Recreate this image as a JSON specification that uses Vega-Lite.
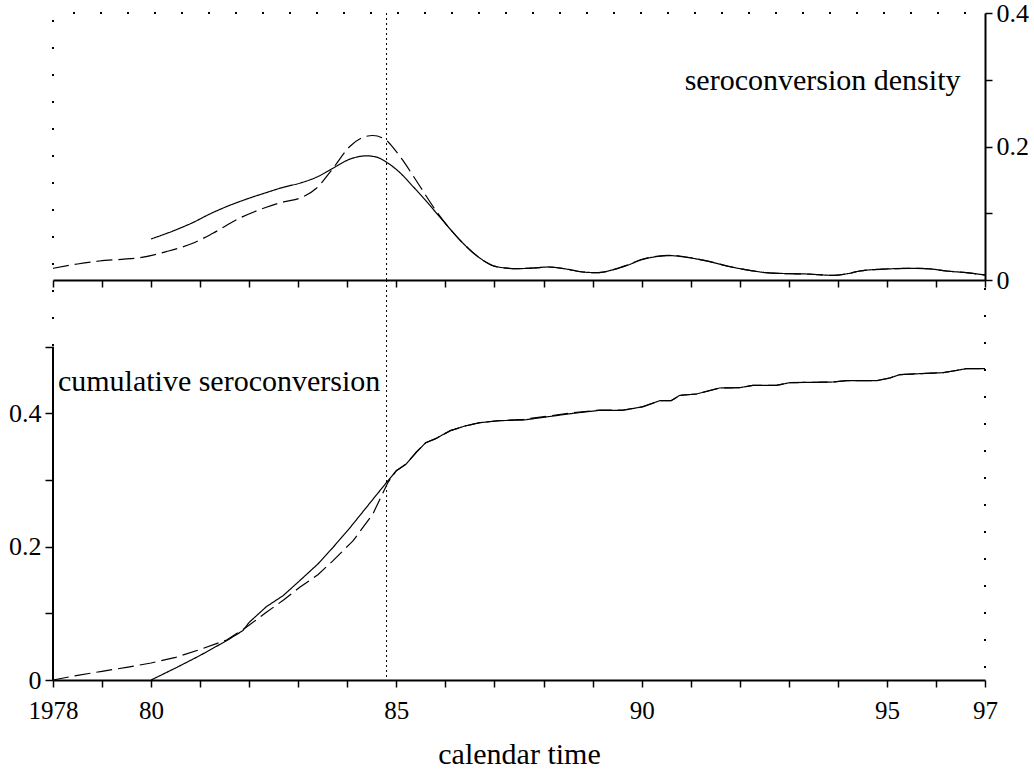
{
  "$schema": "https://vega.github.io/schema/vega-lite/v6.json",
  "padding": {"left": 8, "top": 0, "right": 0, "bottom": 0},
  "background": "white",
  "config": {
    "view": {"stroke": null},
    "font": "Liberation Serif",
    "axis": {
      "domainColor": "black", "domainWidth": 2, "tickColor": "black", "tickWidth": 1.5,
      "labelColor": "black", "labelFont": "Liberation Serif", "labelFontSize": 26,
      "titleFont": "Liberation Serif", "titleFontSize": 30, "titleFontWeight": "normal", "titleColor": "black",
      "grid": false, "labelOverlap": false, "labelFlush": false
    }
  },
  "datasets": {
    "density": [
      {"year": 1980.0, "value": 0.0615, "method": "solid"},
      {"year": 1980.5, "value": 0.075, "method": "solid"},
      {"year": 1980.85, "value": 0.086, "method": "solid"},
      {"year": 1981.2, "value": 0.099, "method": "solid"},
      {"year": 1981.54, "value": 0.110, "method": "solid"},
      {"year": 1981.9, "value": 0.120, "method": "solid"},
      {"year": 1982.35, "value": 0.131, "method": "solid"},
      {"year": 1982.7, "value": 0.139, "method": "solid"},
      {"year": 1983.03, "value": 0.145, "method": "solid"},
      {"year": 1983.4, "value": 0.155, "method": "solid"},
      {"year": 1983.71, "value": 0.1675, "method": "solid"},
      {"year": 1984.05, "value": 0.181, "method": "solid"},
      {"year": 1984.39, "value": 0.186, "method": "solid"},
      {"year": 1984.6, "value": 0.184, "method": "solid"},
      {"year": 1984.83, "value": 0.175, "method": "solid"},
      {"year": 1985.07, "value": 0.161, "method": "solid"},
      {"year": 1985.34, "value": 0.140, "method": "solid"},
      {"year": 1985.6, "value": 0.119, "method": "solid"},
      {"year": 1985.82, "value": 0.100, "method": "solid"},
      {"year": 1986.1, "value": 0.076, "method": "solid"},
      {"year": 1986.36, "value": 0.055, "method": "solid"},
      {"year": 1986.7, "value": 0.033, "method": "solid"},
      {"year": 1987.04, "value": 0.020, "method": "solid"},
      {"year": 1987.45, "value": 0.017, "method": "solid"},
      {"year": 1987.8, "value": 0.018, "method": "solid"},
      {"year": 1988.1, "value": 0.0195, "method": "solid"},
      {"year": 1988.5, "value": 0.016, "method": "solid"},
      {"year": 1988.8, "value": 0.012, "method": "solid"},
      {"year": 1989.1, "value": 0.011, "method": "solid"},
      {"year": 1989.4, "value": 0.015, "method": "solid"},
      {"year": 1989.69, "value": 0.0215, "method": "solid"},
      {"year": 1990.03, "value": 0.031, "method": "solid"},
      {"year": 1990.3, "value": 0.035, "method": "solid"},
      {"year": 1990.57, "value": 0.0365, "method": "solid"},
      {"year": 1990.91, "value": 0.034, "method": "solid"},
      {"year": 1991.39, "value": 0.0275, "method": "solid"},
      {"year": 1991.8, "value": 0.020, "method": "solid"},
      {"year": 1992.2, "value": 0.0145, "method": "solid"},
      {"year": 1992.54, "value": 0.011, "method": "solid"},
      {"year": 1993.0, "value": 0.0095, "method": "solid"},
      {"year": 1993.36, "value": 0.009, "method": "solid"},
      {"year": 1993.9, "value": 0.007, "method": "solid"},
      {"year": 1994.2, "value": 0.0095, "method": "solid"},
      {"year": 1994.45, "value": 0.0135, "method": "solid"},
      {"year": 1994.99, "value": 0.0165, "method": "solid"},
      {"year": 1995.6, "value": 0.0175, "method": "solid"},
      {"year": 1995.9, "value": 0.0165, "method": "solid"},
      {"year": 1996.21, "value": 0.0135, "method": "solid"},
      {"year": 1996.62, "value": 0.011, "method": "solid"},
      {"year": 1997.0, "value": 0.0075, "method": "solid"},
      {"year": 1978.0, "value": 0.0175, "method": "dashed"},
      {"year": 1978.5, "value": 0.024, "method": "dashed"},
      {"year": 1978.95, "value": 0.0285, "method": "dashed"},
      {"year": 1979.4, "value": 0.031, "method": "dashed"},
      {"year": 1979.77, "value": 0.0335, "method": "dashed"},
      {"year": 1980.31, "value": 0.0425, "method": "dashed"},
      {"year": 1980.85, "value": 0.055, "method": "dashed"},
      {"year": 1981.26, "value": 0.070, "method": "dashed"},
      {"year": 1981.8, "value": 0.0925, "method": "dashed"},
      {"year": 1982.35, "value": 0.109, "method": "dashed"},
      {"year": 1982.7, "value": 0.117, "method": "dashed"},
      {"year": 1983.03, "value": 0.1225, "method": "dashed"},
      {"year": 1983.37, "value": 0.1375, "method": "dashed"},
      {"year": 1983.71, "value": 0.1675, "method": "dashed"},
      {"year": 1984.05, "value": 0.200, "method": "dashed"},
      {"year": 1984.3, "value": 0.213, "method": "dashed"},
      {"year": 1984.52, "value": 0.2165, "method": "dashed"},
      {"year": 1984.8, "value": 0.209, "method": "dashed"},
      {"year": 1984.97, "value": 0.195, "method": "dashed"},
      {"year": 1985.1, "value": 0.1825, "method": "dashed"},
      {"year": 1985.44, "value": 0.145, "method": "dashed"},
      {"year": 1985.82, "value": 0.1025, "method": "dashed"},
      {"year": 1986.1, "value": 0.076, "method": "dashed"},
      {"year": 1986.36, "value": 0.055, "method": "dashed"},
      {"year": 1986.7, "value": 0.033, "method": "dashed"},
      {"year": 1987.04, "value": 0.020, "method": "dashed"},
      {"year": 1987.45, "value": 0.017, "method": "dashed"},
      {"year": 1987.8, "value": 0.018, "method": "dashed"},
      {"year": 1988.1, "value": 0.0195, "method": "dashed"},
      {"year": 1988.5, "value": 0.016, "method": "dashed"},
      {"year": 1988.8, "value": 0.012, "method": "dashed"},
      {"year": 1989.1, "value": 0.011, "method": "dashed"},
      {"year": 1989.4, "value": 0.015, "method": "dashed"},
      {"year": 1989.69, "value": 0.022, "method": "dashed"},
      {"year": 1990.03, "value": 0.0315, "method": "dashed"},
      {"year": 1990.3, "value": 0.0355, "method": "dashed"},
      {"year": 1990.57, "value": 0.037, "method": "dashed"},
      {"year": 1990.91, "value": 0.0345, "method": "dashed"},
      {"year": 1991.39, "value": 0.0275, "method": "dashed"},
      {"year": 1991.8, "value": 0.020, "method": "dashed"},
      {"year": 1992.2, "value": 0.0145, "method": "dashed"},
      {"year": 1992.54, "value": 0.011, "method": "dashed"},
      {"year": 1993.0, "value": 0.0095, "method": "dashed"},
      {"year": 1993.36, "value": 0.009, "method": "dashed"},
      {"year": 1993.9, "value": 0.007, "method": "dashed"},
      {"year": 1994.2, "value": 0.0095, "method": "dashed"},
      {"year": 1994.45, "value": 0.0135, "method": "dashed"},
      {"year": 1994.99, "value": 0.0165, "method": "dashed"},
      {"year": 1995.6, "value": 0.0175, "method": "dashed"},
      {"year": 1995.9, "value": 0.0165, "method": "dashed"},
      {"year": 1996.21, "value": 0.0135, "method": "dashed"},
      {"year": 1996.62, "value": 0.011, "method": "dashed"},
      {"year": 1997.0, "value": 0.0075, "method": "dashed"}
    ],
    "cumulative": [
      {"year": 1980.0, "value": 0.0, "method": "solid"},
      {"year": 1980.5, "value": 0.018, "method": "solid"},
      {"year": 1980.99, "value": 0.0365, "method": "solid"},
      {"year": 1981.54, "value": 0.059, "method": "solid"},
      {"year": 1981.87, "value": 0.074, "method": "solid"},
      {"year": 1982.0, "value": 0.0865, "method": "solid"},
      {"year": 1982.35, "value": 0.110, "method": "solid"},
      {"year": 1982.69, "value": 0.1265, "method": "solid"},
      {"year": 1983.03, "value": 0.149, "method": "solid"},
      {"year": 1983.4, "value": 0.174, "method": "solid"},
      {"year": 1983.71, "value": 0.199, "method": "solid"},
      {"year": 1984.05, "value": 0.228, "method": "solid"},
      {"year": 1984.39, "value": 0.259, "method": "solid"},
      {"year": 1984.62, "value": 0.280, "method": "solid"},
      {"year": 1984.83, "value": 0.299, "method": "solid"},
      {"year": 1985.0, "value": 0.314, "method": "solid"},
      {"year": 1985.2, "value": 0.324, "method": "solid"},
      {"year": 1985.41, "value": 0.342, "method": "solid"},
      {"year": 1985.6, "value": 0.356, "method": "solid"},
      {"year": 1985.8, "value": 0.362, "method": "solid"},
      {"year": 1986.1, "value": 0.374, "method": "solid"},
      {"year": 1986.4, "value": 0.381, "method": "solid"},
      {"year": 1986.7, "value": 0.386, "method": "solid"},
      {"year": 1987.1, "value": 0.389, "method": "solid"},
      {"year": 1987.6, "value": 0.390, "method": "solid"},
      {"year": 1988.1, "value": 0.395, "method": "solid"},
      {"year": 1988.6, "value": 0.400, "method": "solid"},
      {"year": 1989.15, "value": 0.4045, "method": "solid"},
      {"year": 1989.62, "value": 0.4045, "method": "solid"},
      {"year": 1990.03, "value": 0.410, "method": "solid"},
      {"year": 1990.37, "value": 0.419, "method": "solid"},
      {"year": 1990.6, "value": 0.419, "method": "solid"},
      {"year": 1990.78, "value": 0.427, "method": "solid"},
      {"year": 1991.12, "value": 0.429, "method": "solid"},
      {"year": 1991.59, "value": 0.438, "method": "solid"},
      {"year": 1992.0, "value": 0.4385, "method": "solid"},
      {"year": 1992.27, "value": 0.442, "method": "solid"},
      {"year": 1992.75, "value": 0.442, "method": "solid"},
      {"year": 1993.02, "value": 0.446, "method": "solid"},
      {"year": 1993.9, "value": 0.447, "method": "solid"},
      {"year": 1994.18, "value": 0.449, "method": "solid"},
      {"year": 1994.79, "value": 0.449, "method": "solid"},
      {"year": 1995.06, "value": 0.453, "method": "solid"},
      {"year": 1995.26, "value": 0.458, "method": "solid"},
      {"year": 1995.67, "value": 0.4595, "method": "solid"},
      {"year": 1996.15, "value": 0.461, "method": "solid"},
      {"year": 1996.35, "value": 0.4635, "method": "solid"},
      {"year": 1996.62, "value": 0.467, "method": "solid"},
      {"year": 1997.0, "value": 0.467, "method": "solid"},
      {"year": 1978.0, "value": 0.0, "method": "dashed"},
      {"year": 1978.5, "value": 0.007, "method": "dashed"},
      {"year": 1979.0, "value": 0.013, "method": "dashed"},
      {"year": 1979.5, "value": 0.019, "method": "dashed"},
      {"year": 1980.0, "value": 0.0255, "method": "dashed"},
      {"year": 1980.5, "value": 0.034, "method": "dashed"},
      {"year": 1980.99, "value": 0.0455, "method": "dashed"},
      {"year": 1981.54, "value": 0.060, "method": "dashed"},
      {"year": 1981.94, "value": 0.079, "method": "dashed"},
      {"year": 1982.35, "value": 0.1015, "method": "dashed"},
      {"year": 1982.7, "value": 0.120, "method": "dashed"},
      {"year": 1983.03, "value": 0.139, "method": "dashed"},
      {"year": 1983.4, "value": 0.158, "method": "dashed"},
      {"year": 1983.71, "value": 0.179, "method": "dashed"},
      {"year": 1984.12, "value": 0.209, "method": "dashed"},
      {"year": 1984.52, "value": 0.249, "method": "dashed"},
      {"year": 1984.83, "value": 0.2965, "method": "dashed"},
      {"year": 1985.0, "value": 0.314, "method": "dashed"},
      {"year": 1985.2, "value": 0.324, "method": "dashed"},
      {"year": 1985.41, "value": 0.342, "method": "dashed"},
      {"year": 1985.6, "value": 0.356, "method": "dashed"},
      {"year": 1985.8, "value": 0.362, "method": "dashed"},
      {"year": 1986.1, "value": 0.374, "method": "dashed"},
      {"year": 1986.4, "value": 0.381, "method": "dashed"},
      {"year": 1986.7, "value": 0.386, "method": "dashed"},
      {"year": 1987.1, "value": 0.389, "method": "dashed"},
      {"year": 1987.6, "value": 0.391, "method": "dashed"},
      {"year": 1988.1, "value": 0.396, "method": "dashed"},
      {"year": 1988.6, "value": 0.401, "method": "dashed"},
      {"year": 1989.15, "value": 0.405, "method": "dashed"},
      {"year": 1989.62, "value": 0.405, "method": "dashed"},
      {"year": 1990.03, "value": 0.410, "method": "dashed"},
      {"year": 1990.37, "value": 0.419, "method": "dashed"},
      {"year": 1990.6, "value": 0.419, "method": "dashed"},
      {"year": 1990.78, "value": 0.427, "method": "dashed"},
      {"year": 1991.12, "value": 0.429, "method": "dashed"},
      {"year": 1991.59, "value": 0.438, "method": "dashed"},
      {"year": 1992.0, "value": 0.4385, "method": "dashed"},
      {"year": 1992.27, "value": 0.442, "method": "dashed"},
      {"year": 1992.75, "value": 0.442, "method": "dashed"},
      {"year": 1993.02, "value": 0.446, "method": "dashed"},
      {"year": 1993.9, "value": 0.447, "method": "dashed"},
      {"year": 1994.18, "value": 0.449, "method": "dashed"},
      {"year": 1994.79, "value": 0.449, "method": "dashed"},
      {"year": 1995.06, "value": 0.453, "method": "dashed"},
      {"year": 1995.26, "value": 0.458, "method": "dashed"},
      {"year": 1995.67, "value": 0.4595, "method": "dashed"},
      {"year": 1996.15, "value": 0.461, "method": "dashed"},
      {"year": 1996.35, "value": 0.4635, "method": "dashed"},
      {"year": 1996.62, "value": 0.467, "method": "dashed"},
      {"year": 1997.0, "value": 0.467, "method": "dashed"}
    ]
  },
  "vconcat": [
    {
      "width": 932,
      "height": 267,
      "layer": [
        {
          "data": {"name": "density"},
          "mark": {"type": "line", "color": "black", "strokeWidth": 1.2, "interpolate": "monotone"},
          "encoding": {
            "x": {"field": "year", "type": "quantitative",
              "scale": {"domain": [1978, 1997], "nice": false, "zero": false},
              "axis": {"orient": "bottom", "values": [1978,1979,1980,1981,1982,1983,1984,1985,1986,1987,1988,1989,1990,1991,1992,1993,1994,1995,1996,1997], "labels": false, "tickSize": 7, "title": null}},
            "y": {"field": "value", "type": "quantitative",
              "scale": {"domain": [0, 0.4], "nice": false, "zero": true},
              "axis": {"orient": "right", "values": [0, 0.1, 0.2, 0.3, 0.4], "tickSize": 7, "labelPadding": 4, "title": null,
                "labelExpr": "datum.value == 0 ? '0' : (datum.value == 0.2 ? '0.2' : (datum.value == 0.4 ? '0.4' : ''))"}},
            "strokeDash": {"field": "method", "type": "nominal", "legend": null,
              "scale": {"domain": ["solid", "dashed"], "range": [[1, 0], [16, 6]]}}
          }
        },
        {
          "data": {"values": [{}]},
          "mark": {"type": "rule", "color": "black", "strokeWidth": 2, "strokeDash": [2, 25], "strokeDashOffset": 7},
          "encoding": {
            "x": {"datum": 1978, "type": "quantitative"},
            "x2": {"datum": 1997},
            "y": {"datum": 0.4, "type": "quantitative"}
          }
        },
        {
          "data": {"values": [{}]},
          "mark": {"type": "rule", "color": "black", "strokeWidth": 2, "strokeDash": [2, 25], "strokeDashOffset": 20},
          "encoding": {
            "x": {"datum": 1978, "type": "quantitative"},
            "y": {"datum": 0.4, "type": "quantitative"},
            "y2": {"datum": 0}
          }
        },
        {
          "data": {"values": [{}]},
          "mark": {"type": "rule", "color": "black", "strokeWidth": 1, "strokeDash": [2, 3]},
          "encoding": {
            "x": {"datum": 1984.8, "type": "quantitative"},
            "y": {"datum": 0.4, "type": "quantitative"},
            "y2": {"datum": 0}
          }
        },
        {
          "data": {"values": [{}]},
          "mark": {"type": "text", "text": "seroconversion density", "align": "right", "baseline": "alphabetic", "fontSize": 30, "font": "Liberation Serif", "color": "black"},
          "encoding": {
            "x": {"datum": 1996.5, "type": "quantitative"},
            "y": {"datum": 0.285, "type": "quantitative"}
          }
        }
      ]
    },
    {
      "width": 932,
      "height": 400,
      "layer": [
        {
          "data": {"name": "cumulative"},
          "mark": {"type": "line", "color": "black", "strokeWidth": 1.2, "interpolate": "linear"},
          "encoding": {
            "x": {"field": "year", "type": "quantitative",
              "scale": {"domain": [1978, 1997], "nice": false, "zero": false},
              "axis": {"orient": "bottom", "values": [1978,1979,1980,1981,1982,1983,1984,1985,1986,1987,1988,1989,1990,1991,1992,1993,1994,1995,1996,1997], "tickSize": 7, "labelFontSize": 25, "labelPadding": 11, "title": "calendar time", "titlePadding": 16,
                "labelExpr": "datum.value == 1978 ? '1978' : (datum.value == 1980 ? '80' : (datum.value == 1985 ? '85' : (datum.value == 1990 ? '90' : (datum.value == 1995 ? '95' : (datum.value == 1997 ? '97' : '')))))"}},
            "y": {"field": "value", "type": "quantitative",
              "scale": {"domain": [0, 0.6], "nice": false, "zero": true},
              "axis": {"orient": "left", "values": [0, 0.1, 0.2, 0.3, 0.4, 0.5], "domain": false, "tickSize": 8, "labelPadding": 4, "title": null,
                "labelExpr": "datum.value == 0 ? '0' : (datum.value == 0.2 ? '0.2' : (datum.value == 0.4 ? '0.4' : ''))"}},
            "strokeDash": {"field": "method", "type": "nominal", "legend": null,
              "scale": {"domain": ["solid", "dashed"], "range": [[1, 0], [16, 6]]}}
          }
        },
        {
          "data": {"values": [{}]},
          "mark": {"type": "rule", "color": "black", "strokeWidth": 2},
          "encoding": {
            "x": {"datum": 1978, "type": "quantitative"},
            "y": {"datum": 0, "type": "quantitative"},
            "y2": {"datum": 0.5}
          }
        },
        {
          "data": {"values": [{}]},
          "mark": {"type": "rule", "color": "black", "strokeWidth": 2, "strokeDash": [2, 25], "strokeDashOffset": 17},
          "encoding": {
            "x": {"datum": 1978, "type": "quantitative"},
            "y": {"datum": 0.6, "type": "quantitative"},
            "y2": {"datum": 0.5}
          }
        },
        {
          "data": {"values": [{}]},
          "mark": {"type": "rule", "color": "black", "strokeWidth": 2, "strokeDash": [2, 25], "strokeDashOffset": 19},
          "encoding": {
            "x": {"datum": 1997, "type": "quantitative"},
            "y": {"datum": 0.6, "type": "quantitative"},
            "y2": {"datum": 0}
          }
        },
        {
          "data": {"values": [{}]},
          "mark": {"type": "rule", "color": "black", "strokeWidth": 1, "strokeDash": [2, 3]},
          "encoding": {
            "x": {"datum": 1984.8, "type": "quantitative"},
            "y": {"datum": 0.6, "type": "quantitative"},
            "y2": {"datum": 0}
          }
        },
        {
          "data": {"values": [{}]},
          "mark": {"type": "text", "text": "cumulative seroconversion", "align": "left", "baseline": "alphabetic", "fontSize": 30, "font": "Liberation Serif", "color": "black"},
          "encoding": {
            "x": {"datum": 1978.1, "type": "quantitative"},
            "y": {"datum": 0.434, "type": "quantitative"}
          }
        }
      ]
    }
  ],
  "spacing": 0,
  "bounds": "flush"
}
